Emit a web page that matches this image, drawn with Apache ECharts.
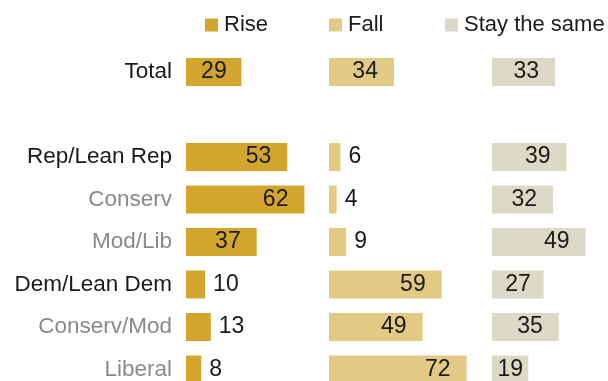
<!DOCTYPE html>
<html>
<head>
<meta charset="utf-8">
<script src="https://cdn.jsdelivr.net/npm/echarts@6/dist/echarts.min.js"></script>
<style>
  html, body { margin: 0; padding: 0; background: #fff; }
  #chart { width: 608px; height: 381px; }
</style>
</head>
<body>
<div id="chart"></div>
<script>
// Expectations for interest rates, overall and by party / ideology
const categories = ['Total', '', 'Rep/Lean Rep', 'Conserv', 'Mod/Lib', 'Dem/Lean Dem', 'Conserv/Mod', 'Liberal'];
const subgroups = ['Conserv', 'Mod/Lib', 'Conserv/Mod', 'Liberal'];
const seriesNames = ['Rise', 'Fall', 'Stay the same'];
const riseValues = [29, null, 53, 62, 37, 10, 13, 8];
const fallValues = [34, null, 6, 4, 9, 59, 49, 72];
const sameValues = [33, null, 39, 32, 49, 27, 35, 19];

const colors = ['#D2A52F', '#E3CA84', '#DCD9C6'];
const FONT = '"Liberation Sans", Arial, sans-serif';
const PX_PER_UNIT = 1.91;
// each panel: left edge and the value span it shows
const panelLeft = [186, 329, 492];
const panelMax = [75, 85, 60];
const legendLeft = [205, 329, 445];

function barData(values) {
  return values.map(v => {
    if (v == null) return null;
    const len = v * PX_PER_UNIT;
    if (v < 15) {
      return { value: v, label: { position: 'right', distance: 8 } };
    }
    const pad = Math.max(5, Math.min(16, (len - 26) / 2));
    return { value: v, label: { position: 'insideRight', distance: pad } };
  });
}

const allValues = [riseValues, fallValues, sameValues];

// rows are placed on ticks (no boundary gap): first row centre 72, last 370
const grids = panelLeft.map((l, i) => ({
  left: l, top: 72, width: panelMax[i] * PX_PER_UNIT, height: 297.5
}));

const xAxes = panelLeft.map((_, i) => ({
  type: 'value', gridIndex: i, min: 0, max: panelMax[i],
  show: false
}));

const yAxes = panelLeft.map((_, i) => ({
  type: 'category', gridIndex: i, inverse: true, boundaryGap: false,
  data: categories.map(c => ({
    value: c,
    textStyle: { color: subgroups.includes(c) ? '#8a8a8a' : '#1a1a1a' }
  })),
  axisLine: { show: false }, axisTick: { show: false }, splitLine: { show: false },
  axisLabel: {
    show: i === 0, margin: 14, fontSize: 22.5, fontFamily: FONT
  }
}));

const series = allValues.map((vals, i) => ({
  name: seriesNames[i], type: 'bar',
  xAxisIndex: i, yAxisIndex: i,
  data: barData(vals),
  barWidth: 28,
  itemStyle: { color: colors[i] },
  label: {
    show: true, color: '#1a1a1a', fontSize: 23, fontFamily: FONT
  },
  silent: true,
  animation: false
}));

const legends = seriesNames.map((name, i) => ({
  data: [name], left: legendLeft[i], top: 14, padding: 0,
  itemWidth: 13, itemHeight: 13, icon: 'rect',
  selectedMode: false,
  textStyle: { fontSize: 22, fontFamily: FONT, color: '#1a1a1a', padding: [0, 0, 0, 1] }
}));

const chart = echarts.init(document.getElementById('chart'), null, { renderer: 'canvas' });
chart.setOption({
  animation: false,
  color: colors,
  legend: legends,
  grid: grids,
  xAxis: xAxes,
  yAxis: yAxes,
  series: series
});
</script>
</body>
</html>
